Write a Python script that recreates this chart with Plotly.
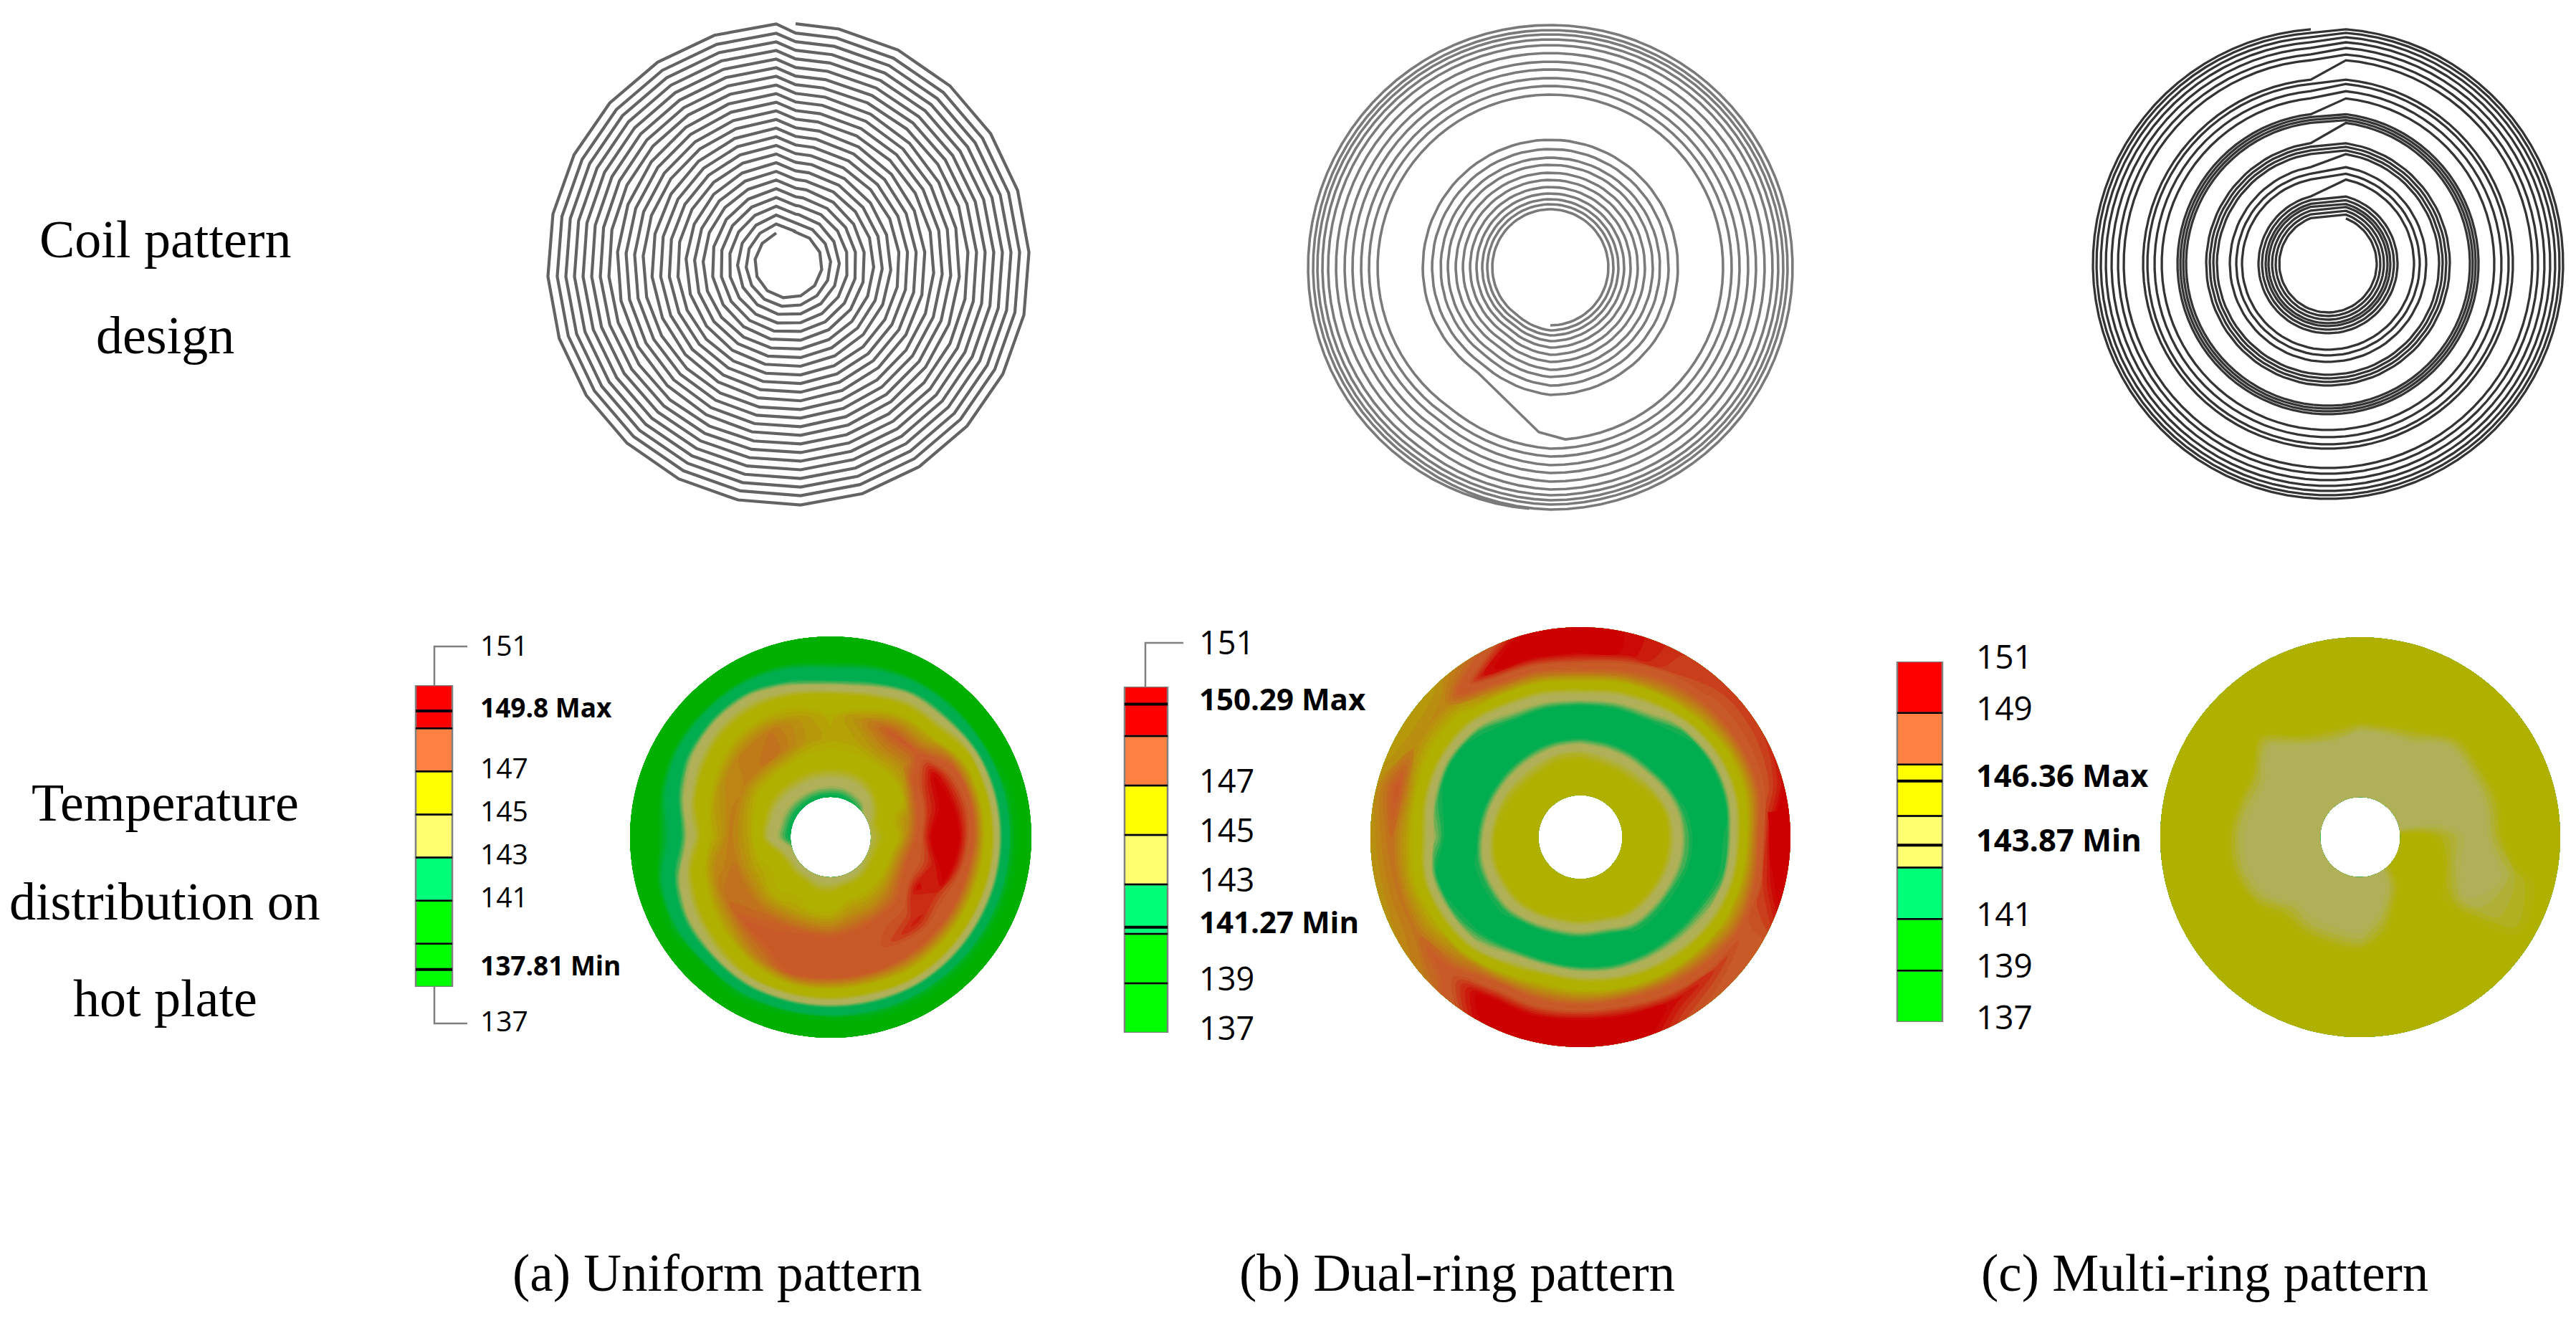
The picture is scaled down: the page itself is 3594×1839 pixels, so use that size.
import numpy as np
import plotly.graph_objects as go

# legend bands (temperature from, to) and their colours
band_edges = [137, 139, 141, 143, 145, 147, 149, 151]
band_colors = ["#00FF00", "#00FF00", "#00FF78", "#FFFF70", "#FFFF00", "#FF8040", "#FF0000"]

ticks_a = [147, 145, 143, 141]
ticks_b = [147, 145, 143, 139, 137]
ticks_c = [151, 149, 141, 139, 137]
max_a, min_a = 149.8, 137.81
max_b, min_b = 150.29, 141.27
max_c, min_c = 146.36, 143.87

row_labels = [["Coil pattern", "design"], ["Temperature", "distribution on", "hot plate"]]
captions = ["(a) Uniform pattern", "(b) Dual-ring pattern", "(c) Multi-ring pattern"]

# coil turn radii, px, read along the horizontal through each coil centre
radii_a = [47, 59, 71, 83, 95, 107, 119, 131, 143, 155, 167, 179, 191, 203, 215, 227, 239,
           251, 263, 275, 287, 299, 311, 323, 336]
sides_a = [12, 14, 14, 16, 16, 16, 18, 18, 18, 20, 20, 20, 20, 22, 22, 22, 22, 24, 24, 24,
           24, 24, 24, 24, 24]
radii_b_inner = [81, 88, 95, 103, 112, 122, 132, 143, 153, 165, 178]
radii_b_outer = [241, 253, 264, 276, 287, 299, 310, 318, 325, 331, 338]
radii_c = [68, 73, 78, 83, 87, 92, 97, 120, 128, 137, 155, 160, 165, 170, 198, 202, 206, 210,
           232, 242, 252, 258, 285, 293, 302, 310, 317, 323, 328]

# hot plate temperatures: one row per angle (every 15 deg clockwise from top),
# one column per radius fraction in plate_r
plate_r = [0.2, 0.3, 0.4, 0.5, 0.6, 0.7, 0.8, 0.9, 1.0]
temp_a = [
    [142.6, 144.5, 146, 146.5, 146.3, 145.5, 142.2, 140, 140],
    [142.6, 144.5, 146, 146.6, 147, 145.8, 142.8, 140.3, 140],
    [142.8, 144.6, 146, 147, 148, 146.3, 144, 140.5, 140],
    [143, 145, 146, 147, 148, 146.5, 144.2, 140.6, 140],
    [144, 145.5, 146, 148.5, 149.7, 148, 145.2, 140.6, 140],
    [144.5, 146, 147, 149, 150, 148.5, 145.2, 140.9, 140],
    [144.5, 145.5, 147.5, 149.6, 150.5, 148.3, 145.2, 140.9, 140],
    [144.5, 146, 148, 149, 150, 148, 145.2, 140.9, 140],
    [144.5, 146, 147.8, 149.5, 149, 148, 145.2, 140.9, 140],
    [144.2, 146, 147.3, 148.5, 149.3, 148, 145.4, 140.9, 140],
    [144, 146, 147, 148.5, 148.8, 148, 145.5, 140.9, 140],
    [144, 146, 147, 148.2, 148.2, 148, 145, 140.9, 140],
    [144, 145.5, 146.5, 148, 148.2, 148, 145, 140.7, 140],
    [144, 145.5, 146.5, 148, 148.2, 148.2, 145, 140.7, 140],
    [144, 146, 146.5, 147.8, 148.3, 147.3, 145, 140.9, 140],
    [144, 146, 146.3, 147.5, 148, 146.5, 144.5, 140.6, 140],
    [144, 146, 146.5, 147.5, 147.5, 146, 144, 140.9, 140],
    [143.5, 145.5, 146.5, 147.4, 147, 145.5, 143, 140.5, 140],
    [142.6, 144.2, 146.5, 147.3, 146.2, 144, 141.5, 140, 140],
    [142.6, 144.3, 146.3, 147.3, 146.6, 145, 142.5, 140.2, 140],
    [142.6, 144.3, 146, 147.2, 147, 145.6, 143.5, 140.6, 140],
    [142.6, 144.4, 146, 147.4, 147.3, 146, 144, 140.6, 140],
    [142.6, 144.5, 146, 147.4, 147.4, 146, 144, 140.6, 140],
    [142.6, 144.5, 146, 146.8, 146.8, 146, 143, 140.4, 140],
]
temp_b = [
    [146, 146, 144.8, 142, 142, 145, 148, 150, 150],
    [146, 146, 144.5, 142, 142, 144.5, 147.5, 149.5, 149.5],
    [146, 146, 144.5, 142, 142, 144, 147, 148.8, 149],
    [146, 146, 144.6, 142, 142, 143, 146.5, 148.5, 149],
    [146, 146, 145, 142.5, 142, 142.5, 146, 148.5, 149],
    [146, 146, 145.5, 143, 142, 142.5, 146, 148.5, 149.5],
    [146, 146, 145.5, 143.2, 142, 143, 146.5, 149.5, 150.5],
    [146, 146, 145.5, 143.2, 142, 143, 146.5, 149, 150],
    [146, 146, 145.5, 143, 142, 143.5, 146.5, 148.5, 148.5],
    [146, 146, 145.5, 143, 142, 144, 147, 149, 148.3],
    [146, 146, 145.5, 143, 142, 144.5, 147.5, 149.5, 148.8],
    [146, 146, 145, 142.2, 142, 145, 148, 150, 150],
    [146, 146, 145, 142.2, 142.3, 145.5, 148, 150.3, 150.5],
    [146, 146, 145, 142.2, 142.5, 145.8, 148, 150, 150.5],
    [146, 146, 145.3, 142.5, 142.3, 145, 148, 150, 149.5],
    [146, 146, 145.5, 143, 142, 143.5, 147, 148.3, 147.5],
    [146, 146, 145.5, 143, 142, 143, 146.3, 147.5, 147],
    [146, 146, 145.5, 143, 142, 142.6, 146, 147.5, 146.8],
    [146, 146, 145.3, 142.6, 142, 143.6, 146.2, 147.6, 146.8],
    [146, 146, 145, 142.3, 142, 143, 146, 148.2, 146.9],
    [146, 146, 144.8, 142, 142, 142.5, 146, 147, 146.6],
    [146, 146, 144.6, 142, 142, 143, 146, 147.2, 146.7],
    [146, 146, 144.6, 142, 142, 144, 147, 149.5, 147.8],
    [146, 146, 144.8, 142, 142, 144.5, 147.5, 150, 150],
]
temp_c = [
    [144, 144, 144, 144, 145.5, 146, 146, 146, 146],
    [144, 144, 144, 144, 145.5, 146, 146, 146, 146],
    [144, 144, 144, 144, 145, 146, 146, 146, 146],
    [144, 144, 144, 144, 144, 145.2, 146, 146, 146],
    [144, 144, 144, 144, 144, 145.2, 146, 146, 146],
    [144.2, 144, 144, 144, 144, 145, 146, 146, 146],
    [145.5, 145.5, 145, 144.5, 144, 145, 146, 146, 146],
    [146, 146, 145.5, 144.5, 144, 144.2, 144.8, 145.2, 145.5],
    [145.5, 146, 146, 145, 144.4, 144.6, 144.8, 145, 145.5],
    [145, 145.5, 146, 145.5, 146, 146, 146, 146, 146],
    [144.2, 144.6, 145.5, 146, 146, 146, 146, 146, 146],
    [144, 144, 144.5, 145.2, 146, 146, 146, 146, 146],
    [144, 144, 144, 144.5, 145.5, 146, 146, 146, 146],
    [144, 144, 144, 144.6, 145.5, 146, 146, 146, 146],
    [144, 144, 144, 144.6, 145.5, 146, 146, 146, 145.2],
    [144, 144, 144, 144.7, 145.5, 146, 146, 146, 146],
    [144, 144, 144, 144, 144.8, 146, 146, 146, 146],
    [144, 144, 144, 144, 144.5, 145.6, 146, 146, 145.6],
    [144, 144, 144, 144, 144.5, 145.6, 146, 146, 145.5],
    [144, 144, 144, 144, 144.7, 146, 146, 146, 146],
    [144, 144, 144, 144, 144.8, 146, 146, 146, 146],
    [144, 144, 144, 144, 144, 145, 146, 146, 146],
    [144, 144, 144, 144, 145.3, 146, 146, 146, 146],
    [144, 144, 144, 144.5, 145.6, 146, 146, 146, 146],
]

W, H = 3594, 1839
serif = "Liberation Serif"
sans = "Open Sans"

# plate colours: flat shades with short blends, same order as the legend bands
plate_scale = [[0.0, "#00B000"], [3.6 / 14, "#00B000"], [4.4 / 14, "#00AE50"], [5.8 / 14, "#00AE50"],
               [6.6 / 14, "#B0B058"], [7.4 / 14, "#B0B058"], [8.2 / 14, "#B0B000"], [9.2 / 14, "#B0B000"],
               [11.0 / 14, "#C85A28"], [11.6 / 14, "#C85A28"], [12.6 / 14, "#CC0000"], [1.0, "#CC0000"]]

fig = go.Figure()


def line_trace(x, y, color, width):
    fig.add_trace(go.Scatter(x=x, y=y, mode="lines", line=dict(color=color, width=width),
                             hoverinfo="skip", showlegend=False))


# ---- coil (a): polygon rings, clockwise, stepping inwards near the top
cx, cy = 1100, 369
xs, ys = [], []
for r, n in zip(radii_a[::-1], sides_a[::-1]):
    a0 = np.degrees(np.arcsin(10 / r))
    peak = -np.degrees(np.arcsin(17 / r))
    ang = np.r_[a0, peak + np.arange(1, n + 1) * 360 / n]
    xs += list(cx + r * np.sin(np.radians(ang)))
    ys += list(cy - r * np.cos(np.radians(ang)))
line_trace(xs, ys, "#636363", 4.2)

# ---- coil (b): counter-clockwise from the bottom, stepping outwards left of the bottom
cx, cy = 2163, 373


def ring_b(r0, r1, a0, a1):
    t = np.linspace(a0, a1, 90)
    r = np.where(t < 325, r0, r0 + (r1 - r0) * (t - 325) / 35)
    return list(cx + r * np.sin(np.radians(t))), list(cy + r * np.cos(np.radians(t)))


xs, ys = [], []
for i in range(len(radii_b_inner) - 1):
    px, py = ring_b(radii_b_inner[i], radii_b_inner[i + 1], 0, 360)
    xs += px
    ys += py
px, py = ring_b(radii_b_inner[-1], radii_b_inner[-1], 0, 325)
xs += px + [cx - 101, cx - 16]
ys += py + [cy + 147, cy + 230]
for i in range(len(radii_b_outer)):
    r1 = radii_b_outer[i + 1] if i + 1 < len(radii_b_outer) else radii_b_outer[i]
    px, py = ring_b(radii_b_outer[i], r1, 5 if i == 0 else 0, 355 if r1 == radii_b_outer[i] else 360)
    xs += px
    ys += py
line_trace(xs, ys, "#7A7A7A", 3.6)

# ---- coil (c): clockwise, stepping outwards at the top
cx, cy = 3248, 368
xs, ys = [], []
for r in radii_c:
    a0 = np.degrees(np.arcsin(25 / r))
    a1 = 360 - np.degrees(np.arcsin(24 / r))
    t = np.linspace(a0, a1, 90)
    xs += list(cx + r * np.sin(np.radians(t)))
    ys += list(cy - r * np.cos(np.radians(t)))
line_trace(xs, ys, "#343434", 3.3)

# ---- hot plates, contour fill on a polar carpet
plates = [("a", 1159, 1168, 280, temp_a), ("b", 2205, 1168, 293, temp_b), ("c", 3293, 1168, 279, temp_c)]
angles = np.arange(0, 361, 15)
for name, px, py, pr, temp in plates:
    rr, tt = np.meshgrid(plate_r, angles)
    fig.add_trace(go.Carpet(
        carpet=name, a=plate_r, b=list(angles),
        x=px + pr * rr * np.sin(np.radians(tt)),
        y=py - pr * rr * np.cos(np.radians(tt)),
        aaxis=dict(showgrid=False, showline=False, showticklabels="none", startline=False, endline=False,
                   minorgridcount=0, smoothing=1),
        baxis=dict(showgrid=False, showline=False, showticklabels="none", startline=False, endline=False,
                   minorgridcount=0, smoothing=1)))
    fig.add_trace(go.Contourcarpet(
        carpet=name, a=plate_r, b=list(angles), z=temp + [temp[0]],
        autocontour=False, contours=dict(start=137, end=151, size=0.2, coloring="fill", showlines=False),
        zmin=137, zmax=151, colorscale=plate_scale, showscale=False, line=dict(width=0)))

# ---- legend bars, one temperature axis each
legends = [
    ("y2", 580, 631, 956, 1377, ticks_a, max_a, min_a, 39, 37, 668, 6),
    ("y3", 1569, 1629, 958, 1441, ticks_b, max_b, min_b, 45, 42, 1671, 8),
    ("y4", 2647, 2710, 923, 1426, ticks_c, max_c, min_c, 46, 43.5, 2755, 8),
]
layout_axes = {}
annotations = []


def label(text, x, y, size, bold=False, yref="y", yshift=0, font=sans, anchor="left"):
    annotations.append(dict(text=f"<b>{text}</b>" if bold else text, x=x, y=y, xref="x", yref=yref,
                            xanchor=anchor, yanchor="middle", yshift=yshift, showarrow=False,
                            font=dict(family=font, size=size, color="#000000")))


for ax, x0, x1, top, bot, ticks, vmax, vmin, size, bsize, tx, shift in legends:
    layout_axes["yaxis" + ax[1:]] = dict(domain=[1 - bot / H, 1 - top / H], range=[137, 151], visible=False,
                                         anchor="x", fixedrange=True)
    for i, col in enumerate(band_colors):
        fig.add_trace(go.Bar(x=[(x0 + x1) / 2], y=[band_edges[i + 1] - band_edges[i]], base=[band_edges[i]],
                             width=[x1 - x0], yaxis=ax, marker=dict(color=col, line=dict(color="#808080", width=2.5)),
                             hoverinfo="skip", showlegend=False))
    for v in band_edges[1:-1]:
        fig.add_trace(go.Scatter(x=[x0, x1], y=[v, v], yaxis=ax, mode="lines",
                                 line=dict(color="#000000", width=2.5), hoverinfo="skip", showlegend=False))
    for v in [vmax, vmin]:
        fig.add_trace(go.Scatter(x=[x0, x1], y=[v, v], yaxis=ax, mode="lines",
                                 line=dict(color="#000000", width=4), hoverinfo="skip", showlegend=False))
    for v in ticks:
        label(str(v), tx, v, size, yref=ax, yshift=shift)
    label(f"{vmax} Max", tx, vmax, bsize, bold=True, yref=ax, yshift=shift)
    label(f"{vmin} Min", tx, vmin, bsize, bold=True, yref=ax, yshift=shift)

# leader lines to the scale end values
line_trace([606, 606, 652], [956, 902, 902], "#808080", 2.5)
line_trace([606, 606, 652], [1377, 1428, 1428], "#808080", 2.5)
line_trace([1598, 1598, 1651], [958, 897, 897], "#808080", 2.5)
label("151", 668, 899, 39)
label("137", 668, 1423, 39)
label("151", 1671, 895, 45)

# row headings and captions
for text, y in zip(row_labels[0], [334, 468]):
    label(text, 230, y, 74, font=serif, anchor="center")
for text, y in zip(row_labels[1], [1120, 1258, 1393]):
    label(text, 230, y, 74, font=serif, anchor="center")
for text, x in zip(captions, [1001, 2033, 3076]):
    label(text, x, 1776, 73, font=serif, anchor="center")

fig.update_layout(
    width=W, height=H, margin=dict(l=0, r=0, t=0, b=0),
    paper_bgcolor="white", plot_bgcolor="rgba(0,0,0,0)", barmode="overlay", showlegend=False,
    xaxis=dict(range=[0, W], visible=False, fixedrange=True, domain=[0, 1]),
    yaxis=dict(range=[H, 0], visible=False, fixedrange=True, domain=[0, 1]),
    annotations=annotations, **layout_axes,
)

fig.write_html("out.html", config=dict(displayModeBar=False), post_script="document.body.style.margin='0';")
